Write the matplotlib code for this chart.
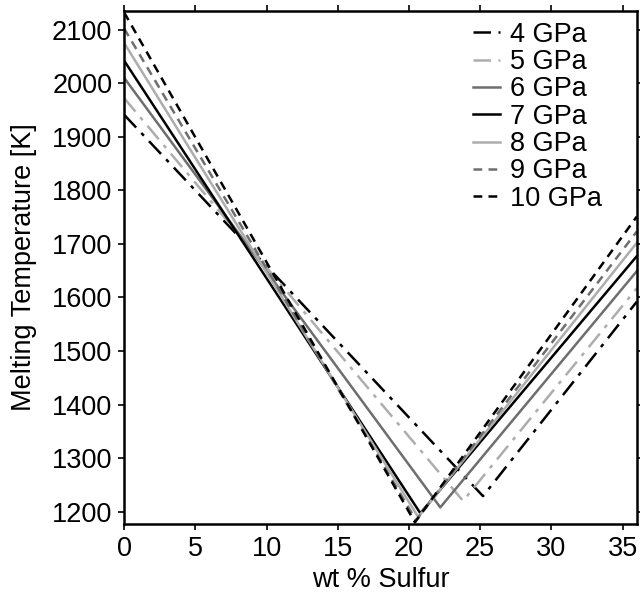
import matplotlib
matplotlib.use("Agg")
import matplotlib.pyplot as plt

plt.rcParams['font.family'] = ['Liberation Sans', 'DejaVu Sans']

pressures = ["4 GPa", "5 GPa", "6 GPa", "7 GPa", "8 GPa", "9 GPa", "10 GPa"]
x_start = [0, 0, 0, 0, 0, 0, 0]
t_start = [1941, 1972, 2010, 2042, 2075, 2102, 2132]
x_eut = [25.2, 23.8, 22.2, 20.8, 20.65, 20.5, 20.42]
t_eut = [1229, 1220, 1208, 1197, 1190, 1184, 1180]
x_end = [36, 36, 36, 36, 36, 36, 36]
t_end = [1592, 1617, 1649, 1677, 1702, 1723, 1751]

colors = ["black", "#adadad", "#6e6e6e", "black", "#adadad", "#6e6e6e", "black"]
styles = [(0, (7, 3, 1.5, 3)), (0, (7, 3, 1.5, 3)), "-", "-", "-", (0, (3.5, 2.5)), (0, (3.5, 2.5))]

fs = 19.5
fig = plt.figure(figsize=(6.4, 6.04), dpi=100)
ax = fig.add_axes([0.194, 0.1325, 0.801, 0.8495])

for i, lab in enumerate(pressures):
    ax.plot([x_start[i], x_eut[i], x_end[i]], [t_start[i], t_eut[i], t_end[i]],
            color=colors[i], linestyle=styles[i], linewidth=1.8, label=lab)

ax.set_xlim(0, 36)
ax.set_ylim(1177, 2135)
ax.set_xticks([0, 5, 10, 15, 20, 25, 30, 35])
ax.set_yticks(range(1200, 2101, 100))
ax.tick_params(direction='out', length=4.5, width=1.2, labelsize=fs, pad=4,
               top=True, right=True, labeltop=False, labelright=False)
for s in ax.spines.values():
    s.set_linewidth(1.8)
ax.set_xlabel("wt % Sulfur", fontsize=fs, labelpad=4)
ax.set_ylabel("Melting Temperature [K]", fontsize=fs, labelpad=11)

leg = ax.legend(loc='upper left', bbox_to_anchor=(0.66, 1.0), frameon=False,
                fontsize=fs, handlelength=1.0, handletextpad=0.35,
                labelspacing=0.05, borderaxespad=0.0)

fig.savefig("out.png", dpi=100)
